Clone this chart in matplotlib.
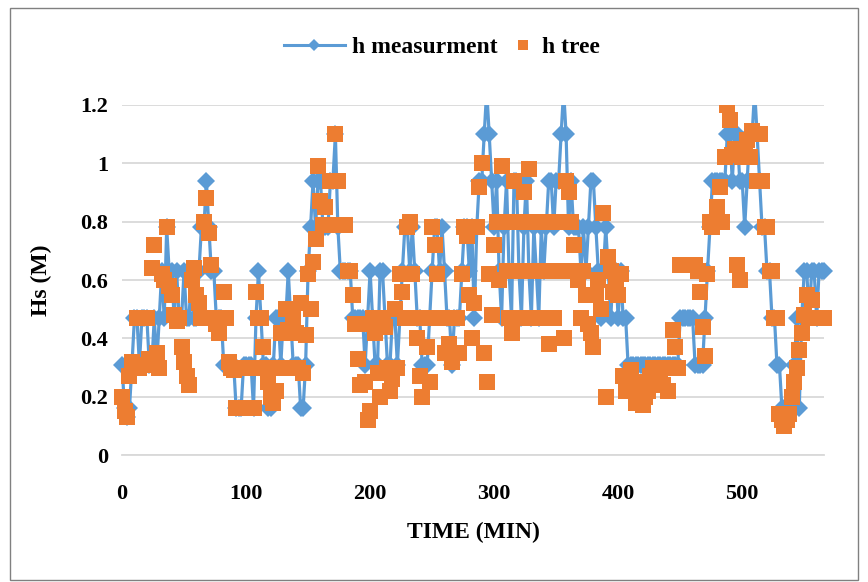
import numpy as np
import matplotlib
matplotlib.use('Agg')
import matplotlib.pyplot as plt
from matplotlib.lines import Line2D
from matplotlib.patches import Rectangle
from matplotlib.transforms import Bbox, TransformedBbox

# time axis (min), one reading every 2 minutes
time_min = np.arange(0, 568, 2)

# measured wave height (M)
h_measurment = [
    0.31, 0.16, 0.13, 0.16, 0.31, 0.47, 0.47, 0.31, 0.47, 0.47, 0.47, 0.31, 0.31, 0.47, 0.31, 0.47,
    0.63, 0.47, 0.78, 0.63, 0.63, 0.47, 0.63, 0.47, 0.47, 0.63, 0.47, 0.47, 0.63, 0.47, 0.47, 0.63,
    0.78, 0.78, 0.94, 0.78, 0.63, 0.63, 0.47, 0.47, 0.47, 0.31, 0.31, 0.31, 0.31, 0.31, 0.16, 0.16,
    # 96 - 190
    0.16, 0.31, 0.31, 0.31, 0.31, 0.16, 0.47, 0.63, 0.47, 0.31, 0.31, 0.16, 0.16, 0.31, 0.47, 0.47,
    0.31, 0.47, 0.47, 0.63, 0.47, 0.31, 0.31, 0.31, 0.16, 0.16, 0.31, 0.63, 0.78, 0.94, 0.78, 0.94,
    0.94, 0.78, 0.78, 0.78, 0.94, 0.94, 1.10, 0.78, 0.63, 0.63, 0.63, 0.63, 0.63, 0.47, 0.47, 0.47,
    # 192 - 284
    0.47, 0.47, 0.31, 0.47, 0.63, 0.47, 0.31, 0.31, 0.63, 0.63, 0.47, 0.31, 0.31, 0.47, 0.47, 0.31,
    0.47, 0.63, 0.78, 0.78, 0.63, 0.78, 0.63, 0.47, 0.47, 0.31, 0.31, 0.31, 0.47, 0.63, 0.78, 0.78,
    0.63, 0.78, 0.63, 0.47, 0.47, 0.31, 0.47, 0.47, 0.47, 0.63, 0.78, 0.78, 0.63, 0.78, 0.47,
    # 286 - 400
    0.78, 0.94, 0.94, 1.10, 1.25, 1.10, 0.94, 0.78, 0.94, 0.63, 0.47, 0.78, 0.94, 0.63, 0.47, 0.94,
    0.94, 0.63, 0.47, 0.78, 0.94, 0.63, 0.47, 0.78, 0.63, 0.47, 0.78, 0.63, 0.78, 0.94, 0.94, 0.78,
    0.94, 0.94, 1.10, 1.25, 1.10, 0.78, 0.94, 0.78, 0.78, 0.78, 0.63, 0.78, 0.63, 0.78, 0.94, 0.94,
    0.78, 0.63, 0.47, 0.63, 0.78, 0.63, 0.47, 0.63, 0.63, 0.47,
    # 402 - 566
    0.63, 0.47, 0.47, 0.31, 0.31, 0.31, 0.31, 0.31, 0.31, 0.31, 0.31, 0.31, 0.31, 0.31, 0.31, 0.31,
    0.31, 0.31, 0.31, 0.31, 0.31, 0.31, 0.31, 0.31, 0.47, 0.47, 0.47, 0.47, 0.47, 0.47, 0.31, 0.31,
    0.31, 0.31, 0.47, 0.63, 0.78, 0.94, 0.94, 0.94, 0.94, 0.94, 0.94, 1.10, 1.10, 0.94, 1.10, 1.10,
    0.94, 0.94, 0.78, 0.94, 1.10, 1.10, 1.25, 1.10, 0.94, 0.78, 0.78, 0.63, 0.63, 0.47, 0.47, 0.31,
    0.31, 0.16, 0.16, 0.16, 0.16, 0.16, 0.31, 0.47, 0.16, 0.47, 0.63, 0.63, 0.47, 0.63, 0.63, 0.47,
    0.63, 0.63, 0.63,
]

# model tree prediction (M)
h_tree = [
    0.20, 0.15, 0.13, 0.27, 0.32, 0.30, 0.47, 0.30, 0.47, 0.31, 0.47, 0.33, 0.64, 0.72, 0.35, 0.30,
    0.62, 0.60, 0.78, 0.58, 0.55, 0.48, 0.46, 0.47, 0.37, 0.32, 0.27, 0.24, 0.60, 0.64, 0.55, 0.52,
    0.47, 0.80, 0.88, 0.76, 0.65, 0.47, 0.45, 0.42, 0.47, 0.56, 0.47, 0.32, 0.30, 0.29, 0.16, 0.16,
    # 96 - 190
    0.30, 0.16, 0.30, 0.16, 0.30, 0.16, 0.56, 0.47, 0.47, 0.37, 0.30, 0.25, 0.20, 0.18, 0.22, 0.30,
    0.42, 0.30, 0.50, 0.43, 0.30, 0.47, 0.42, 0.30, 0.52, 0.28, 0.41, 0.62, 0.50, 0.66, 0.74, 0.99,
    0.87, 0.79, 0.85, 0.79, 0.94, 0.94, 1.10, 0.94, 0.79, 0.79, 0.79, 0.63, 0.63, 0.55, 0.45, 0.33,
    # 192 - 284
    0.24, 0.45, 0.25, 0.12, 0.15, 0.47, 0.42, 0.28, 0.20, 0.47, 0.44, 0.30, 0.22, 0.26, 0.50, 0.30,
    0.62, 0.56, 0.47, 0.78, 0.80, 0.62, 0.47, 0.40, 0.27, 0.20, 0.47, 0.37, 0.25, 0.78, 0.72, 0.62,
    0.47, 0.47, 0.35, 0.47, 0.38, 0.32, 0.47, 0.47, 0.35, 0.62, 0.78, 0.75, 0.55, 0.40, 0.52,
    # 286 - 400
    0.78, 0.92, 1.00, 0.35, 0.25, 0.62, 0.48, 0.72, 0.80, 0.60, 0.99, 0.80, 0.63, 0.47, 0.42, 0.94,
    0.80, 0.63, 0.47, 0.90, 0.80, 0.98, 0.63, 0.47, 0.80, 0.63, 0.47, 0.80, 0.63, 0.38, 0.80, 0.47,
    0.63, 0.80, 0.63, 0.40, 0.94, 0.90, 0.80, 0.72, 0.63, 0.60, 0.47, 0.63, 0.55, 0.45, 0.42, 0.37,
    0.55, 0.60, 0.50, 0.83, 0.20, 0.68, 0.63, 0.56, 0.60, 0.55,
    # 402 - 566
    0.62, 0.27, 0.22, 0.25, 0.29, 0.22, 0.18, 0.20, 0.25, 0.17, 0.20, 0.22, 0.27, 0.30, 0.25, 0.30,
    0.28, 0.24, 0.30, 0.22, 0.30, 0.43, 0.37, 0.30, 0.65, 0.65, 0.65, 0.65, 0.65, 0.65, 0.65, 0.63,
    0.56, 0.44, 0.34, 0.62, 0.80, 0.78, 0.80, 0.85, 0.92, 0.80, 1.02, 1.20, 1.15, 1.03, 1.05, 0.65,
    0.60, 1.02, 1.05, 1.08, 1.02, 1.11, 1.10, 0.94, 1.10, 0.94, 0.78, 0.78, 0.63, 0.63, 0.47, 0.47,
    0.14, 0.12, 0.10, 0.12, 0.14, 0.20, 0.25, 0.30, 0.36, 0.42, 0.48, 0.55, 0.47, 0.53, 0.47, 0.47,
    0.47, 0.47, 0.47,
]

x_ticks = [0, 100, 200, 300, 400, 500]
y_ticks = [0, 0.2, 0.4, 0.6, 0.8, 1.0, 1.2]
y_tick_labels = ['0', '0.2', '0.4', '0.6', '0.8', '1', '1.2']

blue = '#5B9BD5'
orange = '#ED7D31'
grid_c = '#D9D9D9'
font = {'family': 'Liberation Serif', 'weight': 'bold'}
leg_prop = {'family': 'Liberation Serif', 'weight': 'bold', 'size': 17}

fig = plt.figure(figsize=(8.68, 5.82), dpi=100)
fig.patches.append(Rectangle((0.011, 0.004), 0.977, 0.982, transform=fig.transFigure,
                             fill=False, edgecolor='#808080', lw=1))
ax = fig.add_axes([0.1406, 0.2182, 0.8088, 0.6014])

l1, = ax.plot(time_min, h_measurment, color=blue, lw=2.3, marker='D', ms=9.5,
              markeredgewidth=0, zorder=3)
l2, = ax.plot(time_min, h_tree, ls='none', color=orange, marker='s', ms=11,
              markeredgewidth=0, zorder=4)

# clip at the top of the plot but let markers hang over the sides
clip = TransformedBbox(Bbox([[-0.03, -0.06], [1.03, 1.0]]), ax.transAxes)
for ln in (l1, l2):
    ln.set_clip_box(clip)

ax.set_xlim(0, 566)
ax.set_ylim(0, 1.2)
ax.set_xticks(x_ticks)
ax.set_yticks(y_ticks)
ax.set_yticklabels(y_tick_labels)
ax.yaxis.grid(True, color=grid_c, lw=1.3)
ax.set_axisbelow(True)
for s in ['left', 'right', 'top']:
    ax.spines[s].set_visible(False)
ax.spines['bottom'].set_color(grid_c)
ax.spines['bottom'].set_linewidth(1.3)
ax.tick_params(axis='both', length=0)
ax.tick_params(axis='x', pad=21)
ax.tick_params(axis='y', pad=10)
for lab in ax.get_xticklabels() + ax.get_yticklabels():
    lab.set_fontfamily('Liberation Serif')
    lab.set_fontweight('bold')
    lab.set_fontsize(16)

ax.set_xlabel('TIME (MIN)', fontsize=17, **font)
ax.set_ylabel('Hs (M)', fontsize=17, **font)
ax.xaxis.set_label_coords(0.5, -0.19)
ax.yaxis.set_label_coords(-0.1, 0.5)

# legend in two parts so the square sits close to its text
h1 = Line2D([], [], color=blue, lw=2.2, marker='D', ms=6, markeredgewidth=0)
h2 = Line2D([], [], ls='none', color=orange, marker='s', ms=7, markeredgewidth=0)
fig.legend([h1], ['h measurment'], loc='center', bbox_to_anchor=(0.450, 0.919),
           frameon=False, handlelength=2.6, handletextpad=0.3, prop=leg_prop)
fig.legend([h2], ['h tree'], loc='center', bbox_to_anchor=(0.640, 0.919),
           frameon=False, handlelength=1.0, handletextpad=0.3, prop=leg_prop)

fig.savefig('out.png', dpi=100)
